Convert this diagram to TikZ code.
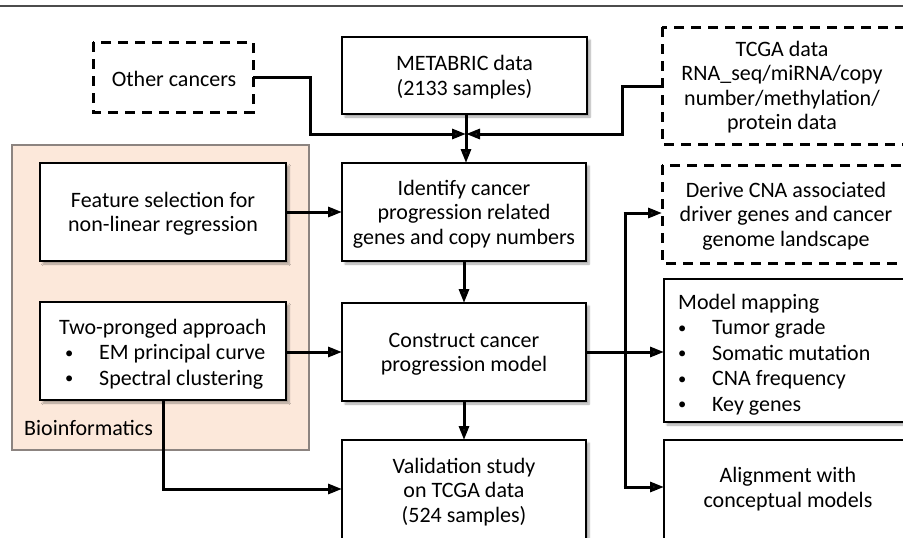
\documentclass[tikz,border=0pt]{standalone}
\usepackage{fontspec}
\setmainfont{Carlito}
\usetikzlibrary{arrows.meta,shadows.blur}
\definecolor{bioback}{HTML}{FCE8DA}
\definecolor{bioline}{HTML}{8C8480}
\tikzset{
  box/.style={draw=black, line width=2.5pt, fill=white, inner sep=0pt,
    blur shadow={shadow xshift=3pt, shadow yshift=-3pt, shadow blur steps=6, shadow opacity=35}},
  dbox/.style={draw=black, line width=3pt, dash pattern=on 10pt off 7pt, fill=white},
  txt/.style={font=\fontsize{22}{24.5}\selectfont, align=center, inner sep=0pt},
  ltxt/.style={font=\fontsize{22}{25.5}\selectfont, align=left, inner sep=0pt},
  conn/.style={line width=3pt, -{Triangle[length=14pt,width=10pt]}},
  plain/.style={line width=3pt},
}
\newcommand{\bulx}[3]{\makebox[#2][l]{\hspace{#1}\raisebox{1.5pt}{\scalebox{0.75}{\textbullet}}}#3}
\begin{document}
\begin{tikzpicture}[x=1pt,y=-1pt]
\useasboundingbox (0,0) rectangle (903,538);
\clip (0,0) rectangle (903,538);
\draw[line width=1.5pt, draw=black!70] (0,6) coordinate (tl) -- (903,6) coordinate (tr);
% Bioinformatics background
\draw[fill=bioback, draw=bioline, line width=1.2pt] (12,145) rectangle (309,450);
\node[txt, anchor=west] (biolabel) at (24,428) {Bioinformatics};
% boxes
\draw[dbox] (93,42) rectangle (253,112);
\node[txt] (other) at (174,79) {Other cancers};
\coordinate (otherE) at (253,77);

\draw[box] (342,37) rectangle (587,114);
\node[txt] (metabric) at (464.5,77) {METABRIC data\\(2133 samples)};
\coordinate (metS) at (466,114);

\draw[dbox] (662,27) rectangle (930,144);
\node[txt] (tcga) at (782,87) {TCGA data\\RNA\_seq/miRNA/copy\\number/methylation/\\protein data};
\coordinate (tcgaW) at (662,86);

\draw[box] (40,163) rectangle (286,261);
\node[txt] (feature) at (163,214) {Feature selection for\\non-linear regression};
\coordinate (featE) at (286,212);

\draw[box] (342,163) rectangle (586,261);
\node[txt] (identify) at (464,214) {Identify cancer\\progression related\\genes and copy numbers};
\coordinate (idW) at (342,212);
\coordinate (idN) at (466,163);
\coordinate (idS) at (464,261);

\draw[dbox] (662,165) rectangle (930,263);
\node[txt] (derive) at (786,216) {Derive CNA associated\\driver genes and cancer\\genome landscape};
\coordinate (derW) at (662,213);

\draw[box] (40,302) rectangle (286,400);
\node[ltxt, anchor=north west] (two) at (59,319) {Two-pronged approach\\\bulx{6pt}{40pt}{EM principal curve}\\\bulx{6pt}{40pt}{Spectral clustering}};
\coordinate (twoE) at (286,352);
\coordinate (twoS) at (163,400);

\draw[box] (342,303) rectangle (586,401);
\node[txt] (construct) at (464,354) {Construct cancer\\progression model};
\coordinate (conW) at (342,352);
\coordinate (conN) at (464,303);
\coordinate (conE) at (586,352);
\coordinate (conS) at (464,401);

\draw[box] (664,279) rectangle (930,422);
\node[ltxt, anchor=north west] (mapping) at (678,294) {Model mapping\\\bulx{0pt}{34pt}{Tumor grade}\\\bulx{0pt}{34pt}{Somatic mutation}\\\bulx{0pt}{34pt}{CNA frequency}\\\bulx{0pt}{34pt}{Key genes}};
\coordinate (mapW) at (664,352);

\draw[box] (342,440) rectangle (586,570);
\node[txt] (validation) at (464,492) {Validation study\\on TCGA data\\(524 samples)};
\coordinate (valN) at (464,440);
\coordinate (valW) at (342,489);

\draw[box] (664,440) rectangle (930,570);
\node[txt] (alignment) at (788,489) {Alignment with\\conceptual models};
\coordinate (aliW) at (664,487);

% connectors
\coordinate (junc) at (466,134);
\draw[conn] (otherE) -- (310,77) -- (310,134) -- (junc);
\draw[conn] (tcgaW) -- (622,86) -- (622,134) -- (junc);
\draw[conn] (metS) -- (idN);
\draw[conn] (featE) -- (idW);
\draw[conn] (twoE) -- (conW);
\draw[conn] (idS) -- (conN);
\draw[conn] (conS) -- (valN);
\draw[conn] (twoS) -- (163,489) -- (valW);
\draw[conn] (conE) -- (mapW);
\coordinate (vtop) at (625,213);
\coordinate (vbot) at (625,487);
\draw[plain] (vtop) -- (vbot);
\draw[conn] ([xshift=-1.5pt]vtop) -- (derW);
\draw[conn] ([xshift=-1.5pt]vbot) -- (aliW);
\end{tikzpicture}
\end{document}
